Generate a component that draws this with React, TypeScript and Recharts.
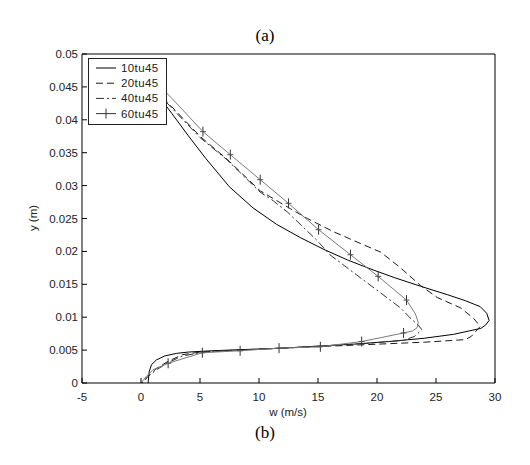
import React from 'react';
import { LineChart, Line, XAxis, YAxis, Legend } from 'recharts';

type P = { w: number; y: number; m?: boolean };

// 10tu45 (solid)
const s10: P[] = [
  { w: 1.2, y: 0.0443 }, { w: 2.6, y: 0.041 }, { w: 4.0, y: 0.0376 }, { w: 5.5, y: 0.0341 },
  { w: 7.5, y: 0.0298 }, { w: 9.5, y: 0.0266 }, { w: 11.5, y: 0.0241 }, { w: 13.5, y: 0.0221 },
  { w: 15.5, y: 0.0203 }, { w: 17.5, y: 0.0187 }, { w: 19.5, y: 0.0173 }, { w: 21.5, y: 0.016 },
  { w: 23.7, y: 0.0147 }, { w: 26.0, y: 0.0134 }, { w: 27.5, y: 0.0125 }, { w: 28.75, y: 0.0116 },
  { w: 29.3, y: 0.0106 }, { w: 29.5, y: 0.0095 }, { w: 29.2, y: 0.0088 }, { w: 28.8, y: 0.0083 },
  { w: 26.5, y: 0.0074 }, { w: 24.0, y: 0.0068 }, { w: 21.0, y: 0.0063 }, { w: 18.0, y: 0.0059 },
  { w: 15.0, y: 0.0056 }, { w: 12.0, y: 0.0053 }, { w: 9.0, y: 0.0051 }, { w: 6.0, y: 0.0049 },
  { w: 4.0, y: 0.0047 }, { w: 3.0, y: 0.0045 }, { w: 2.0, y: 0.0041 }, { w: 1.3, y: 0.0035 },
  { w: 0.9, y: 0.0028 }, { w: 0.7, y: 0.0018 }, { w: 0.6, y: 0 },
];

// 20tu45 (dashed)
const s20: P[] = [
  { w: 1.2, y: 0.0446 }, { w: 2.6, y: 0.042 }, { w: 5.0, y: 0.0375 }, { w: 7.3, y: 0.034 },
  { w: 10.1, y: 0.0292 }, { w: 12.65, y: 0.0265 }, { w: 14.1, y: 0.025 }, { w: 16.3, y: 0.023 },
  { w: 18.6, y: 0.0212 }, { w: 20.3, y: 0.0199 }, { w: 22.0, y: 0.0175 }, { w: 23.7, y: 0.0148 },
  { w: 25.1, y: 0.013 }, { w: 27.1, y: 0.0114 }, { w: 28.2, y: 0.0098 }, { w: 28.75, y: 0.0086 },
  { w: 28.4, y: 0.0079 }, { w: 28.0, y: 0.0071 }, { w: 27.5, y: 0.0066 }, { w: 24.0, y: 0.0062 },
  { w: 20.0, y: 0.0059 }, { w: 16.0, y: 0.0056 }, { w: 12.0, y: 0.0053 }, { w: 8.0, y: 0.005 },
  { w: 5.0, y: 0.0047 }, { w: 3.5, y: 0.0043 }, { w: 2.3, y: 0.0033 }, { w: 1.3, y: 0.0022 },
  { w: 0.6, y: 0.001 }, { w: 0.1, y: 0 },
];

// 40tu45 (dash-dot)
const s40: P[] = [
  { w: 1.2, y: 0.0445 }, { w: 2.6, y: 0.0418 }, { w: 5.0, y: 0.0373 }, { w: 7.3, y: 0.0339 },
  { w: 10.1, y: 0.029 }, { w: 11.2, y: 0.0277 }, { w: 12.4, y: 0.026 }, { w: 14.9, y: 0.0217 },
  { w: 16.0, y: 0.0195 }, { w: 17.7, y: 0.0172 }, { w: 20.3, y: 0.0137 }, { w: 22.0, y: 0.0114 },
  { w: 22.8, y: 0.0099 }, { w: 23.5, y: 0.0088 }, { w: 23.8, y: 0.0081 }, { w: 23.2, y: 0.0071 },
  { w: 22.3, y: 0.0065 }, { w: 19.0, y: 0.006 }, { w: 15.0, y: 0.0056 }, { w: 11.0, y: 0.0052 },
  { w: 7.0, y: 0.0049 }, { w: 5.0, y: 0.0046 }, { w: 3.5, y: 0.0041 }, { w: 2.3, y: 0.0031 },
  { w: 1.3, y: 0.002 }, { w: 0.6, y: 0.001 }, { w: 0.1, y: 0 },
];

// 60tu45 (solid with + markers; m = marker shown)
const s60: P[] = [
  { w: 1.2, y: 0.0458 }, { w: 2.6, y: 0.0433 }, { w: 5.25, y: 0.0382, m: true },
  { w: 7.57, y: 0.0347, m: true }, { w: 10.1, y: 0.0309, m: true }, { w: 12.5, y: 0.0273, m: true },
  { w: 15.05, y: 0.0233, m: true }, { w: 17.75, y: 0.0195, m: true }, { w: 20.1, y: 0.0162, m: true },
  { w: 22.5, y: 0.0126, m: true }, { w: 23.25, y: 0.0105 }, { w: 23.5, y: 0.0092 },
  { w: 23.4, y: 0.0084 }, { w: 23.0, y: 0.0079 }, { w: 22.25, y: 0.0076, m: true },
  { w: 18.7, y: 0.0063, m: true }, { w: 15.2, y: 0.0055, m: true }, { w: 11.7, y: 0.0053, m: true },
  { w: 8.4, y: 0.0049, m: true }, { w: 5.2, y: 0.0046, m: true }, { w: 2.3, y: 0.003, m: true },
  { w: 1.0, y: 0.002 }, { w: 0.4, y: 0.0009 }, { w: 0.0, y: 0 },
];

const seriesNames = ['10tu45', '20tu45', '40tu45', '60tu45'];
const xTicks = [-5, 0, 5, 10, 15, 20, 25, 30];
const yTicks = [0, 0.005, 0.01, 0.015, 0.02, 0.025, 0.03, 0.035, 0.04, 0.045, 0.05];
const titleTop = '(a)';
const titleBottom = '(b)';
const xLabel = 'w (m/s)';
const yLabel = 'y (m)';

const styles = [
  { stroke: '#000000', dash: undefined as string | undefined, marker: false },
  { stroke: '#1a1a1a', dash: '7 4', marker: false },
  { stroke: '#333333', dash: '8 3 2 3', marker: false },
  { stroke: '#7a7a7a', dash: undefined as string | undefined, marker: true },
];

const seriesData = [s10, s20, s40, s60];

const FONT = '"Liberation Sans", Arial, Helvetica, sans-serif';
const SERIF = '"Liberation Serif", "Times New Roman", serif';

const PlusDot = (props: any) => {
  const { cx, cy, payload, index } = props;
  if (!payload || !payload.m || cx == null || cy == null) return <g key={`d${index}`} />;
  return (
    <g key={`d${index}`}>
      <line x1={cx} x2={cx} y1={cy - 5} y2={cy + 5} stroke="#333" strokeWidth={1} />
      <line x1={cx - 3} x2={cx + 3} y1={cy} y2={cy} stroke="#555" strokeWidth={1} />
    </g>
  );
};

const LegendBox = () => (
  <svg width={79} height={67} style={{ display: 'block' }}>
    <rect x={0.5} y={0.5} width={78} height={66} fill="#fff" stroke="#222" strokeWidth={1} />
    {seriesNames.map((name, i) => {
      const cy = 10 + i * 15.2;
      const st = styles[i];
      return (
        <g key={name}>
          <line x1={8} x2={28} y1={cy} y2={cy} stroke={st.marker ? '#333' : st.stroke} strokeWidth={1} strokeDasharray={st.dash} />
          {st.marker && <line x1={18} x2={18} y1={cy - 5} y2={cy + 5} stroke="#333" />}
          <text x={33} y={cy + 4} fontSize={11.5} fontFamily={FONT} fill="#222" letterSpacing={0.4}>
            {name}
          </text>
        </g>
      );
    })}
  </svg>
);

const noTick = () => <g />;

export default function App() {
  const tickStyle = { fill: '#222', fontSize: 11.5, fontFamily: FONT };
  return (
    <div style={{ position: 'absolute', left: 0, top: 0, width: 530, height: 465, background: '#fff' }}>
      <LineChart width={530} height={465} margin={{ top: 34, right: 15, bottom: 52, left: 0 }}>
        <XAxis
          xAxisId="b"
          type="number"
          dataKey="w"
          domain={[-5, 30]}
          ticks={xTicks}
          interval={0}
          tickSize={-5}
          tickMargin={15}
          height={30}
          axisLine={{ stroke: '#000' }}
          tickLine={{ stroke: '#000' }}
          tick={tickStyle}
        />
        <XAxis
          xAxisId="t"
          orientation="top"
          type="number"
          dataKey="w"
          domain={[-5, 30]}
          ticks={xTicks}
          interval={0}
          tickSize={-5}
          height={20}
          axisLine={{ stroke: '#000' }}
          tickLine={{ stroke: '#000' }}
          tick={noTick}
        />
        <YAxis
          yAxisId="l"
          type="number"
          domain={[0, 0.05]}
          ticks={yTicks}
          interval={0}
          tickSize={-5}
          tickMargin={9}
          width={82}
          axisLine={{ stroke: '#000' }}
          tickLine={{ stroke: '#000' }}
          tick={tickStyle}
        />
        <YAxis
          yAxisId="r"
          orientation="right"
          type="number"
          domain={[0, 0.05]}
          ticks={yTicks}
          interval={0}
          tickSize={-5}
          width={20}
          axisLine={{ stroke: '#000' }}
          tickLine={{ stroke: '#000' }}
          tick={noTick}
        />
        {seriesData.map((d, i) => (
          <Line
            key={seriesNames[i]}
            name={seriesNames[i]}
            data={d}
            dataKey="y"
            xAxisId="b"
            yAxisId="l"
            type="linear"
            stroke={styles[i].stroke}
            strokeWidth={1}
            strokeDasharray={styles[i].dash}
            dot={styles[i].marker ? PlusDot : false}
            activeDot={false}
            isAnimationActive={false}
          />
        ))}
        <Legend
          layout="vertical"
          align="center"
          verticalAlign="middle"
          content={LegendBox}
          wrapperStyle={{ left: 88, top: 58, width: 79, height: 67 }}
        />
      </LineChart>
      <svg width={530} height={465} style={{ position: 'absolute', left: 0, top: 0, pointerEvents: 'none' }}>
        <text x={265} y={41} textAnchor="middle" fontSize={17} fontFamily={SERIF} fill="#000">{titleTop}</text>
        <text x={288} y={416} textAnchor="middle" fontSize={11.5} fontFamily={FONT} fill="#222">{xLabel}</text>
        <text x={265} y={438} textAnchor="middle" fontSize={17} fontFamily={SERIF} fill="#000">{titleBottom}</text>
        <text x={37} y={218} textAnchor="middle" fontSize={11.5} fontFamily={FONT} fill="#222" transform="rotate(-90 37 218)">{yLabel}</text>
      </svg>
    </div>
  );
}
